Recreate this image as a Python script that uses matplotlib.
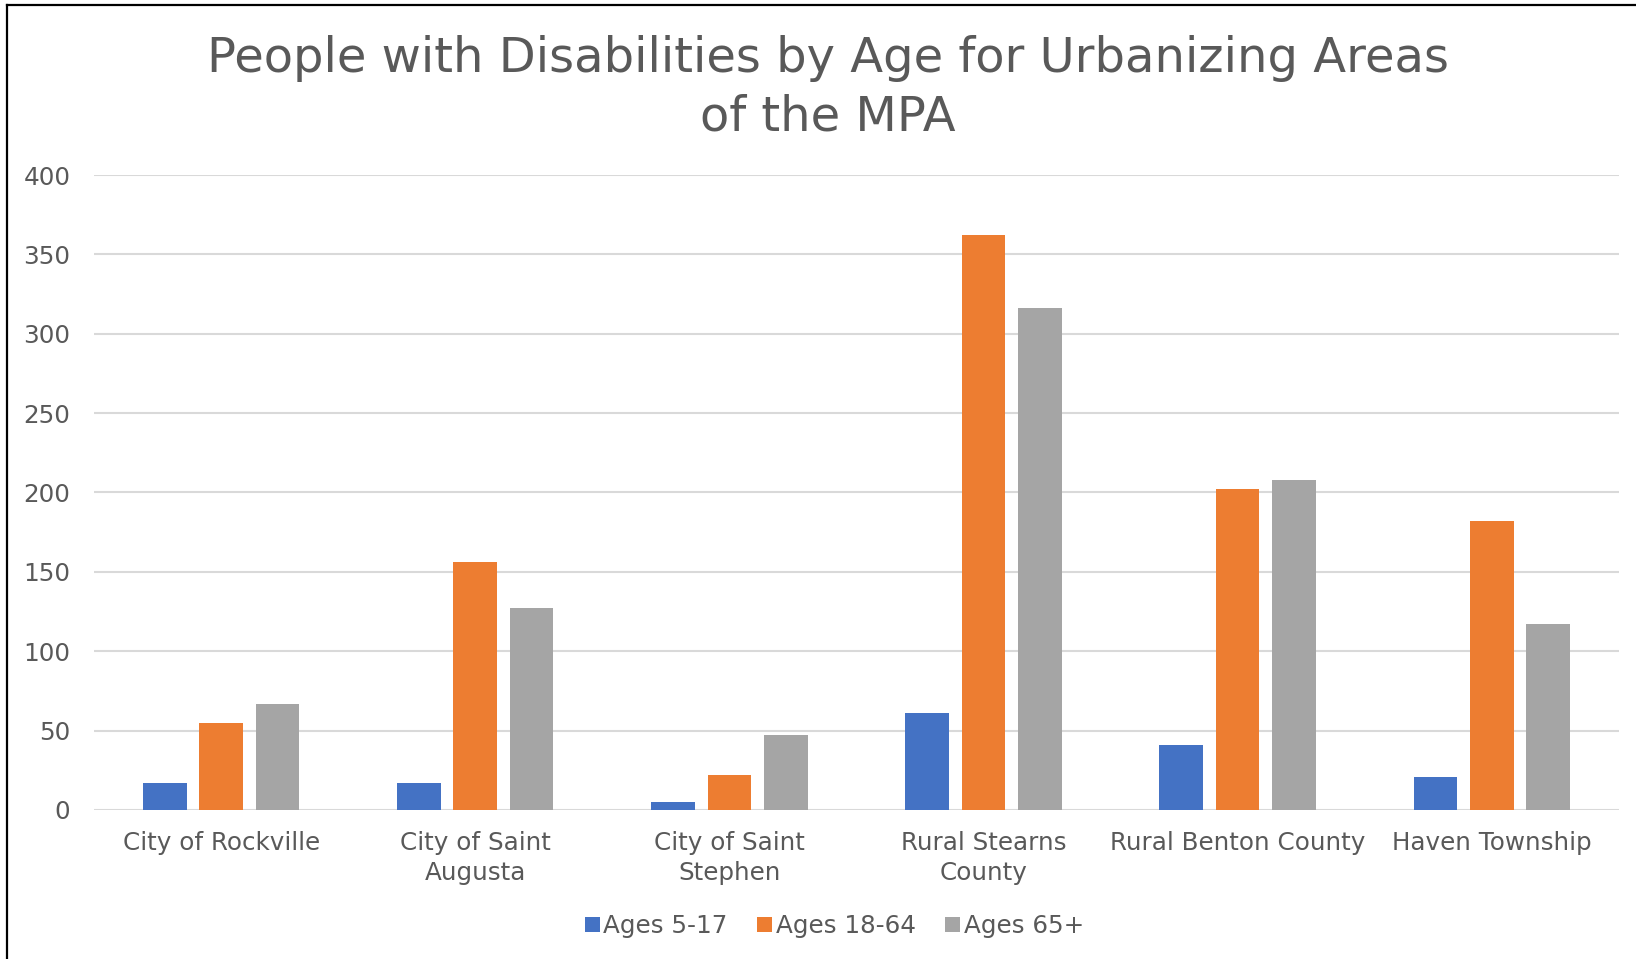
import numpy as np
import matplotlib.pyplot as plt
from matplotlib.lines import Line2D
from matplotlib.patches import Patch

# disabled population counts per area, by age group
areas = ['City of Rockville', 'City of Saint\nAugusta', 'City of Saint\nStephen',
         'Rural Stearns\nCounty', 'Rural Benton County', 'Haven Township']
ages_5_17 = [17, 17, 5, 61, 41, 21]
ages_18_64 = [55, 156, 22, 362, 202, 182]
ages_65_plus = [67, 127, 47, 316, 208, 117]
series_names = ['Ages 5-17', 'Ages 18-64', 'Ages 65+']
colors = ['#4472C4', '#ED7D31', '#A5A5A5']

text_col = '#595959'
plt.rcParams['font.family'] = ['DejaVu Sans']

fig = plt.figure(figsize=(16.36, 9.59), dpi=100)
ax = fig.add_axes([0.0575, 0.1554, 0.932, 0.6621])

x = np.arange(len(areas))
width = 0.172
step = 0.2216
for i, (vals, col) in enumerate(zip([ages_5_17, ages_18_64, ages_65_plus], colors)):
    ax.bar(x + (i - 1) * step, vals, width=width, color=col, zorder=3)

ax.set_xlim(-0.5, len(areas) - 0.5)
ax.set_ylim(0, 400)
ax.set_yticks(range(0, 401, 50))
ax.grid(axis='y', color='#D9D9D9', linewidth=1.5, zorder=0)
for s in ax.spines.values():
    s.set_visible(False)
ax.tick_params(axis='both', length=0, labelsize=17.7, colors=text_col)
ax.tick_params(axis='y', pad=17)
ax.tick_params(axis='x', pad=15.5)
ax.set_xticks(x)
ax.set_xticklabels(areas, linespacing=1.3)

fig.text(0.506, 0.963, 'People with Disabilities by Age for Urbanizing Areas\nof the MPA',
         ha='center', va='top', fontsize=34.6, color=text_col, linespacing=1.3)

handles = [Patch(facecolor=c, edgecolor='none') for c in colors]
fig.legend(handles, series_names, loc='center', bbox_to_anchor=(0.51, 1 - 926 / 959),
           ncol=3, frameon=False, fontsize=17.7, labelcolor=text_col,
           handlelength=0.6, handleheight=0.6, handletextpad=0.15, columnspacing=1.2)

# outer frame lines of the chart area
fig.add_artist(Line2D([6.5 / 1636, 6.5 / 1636], [0, 1 - 5 / 959], color='black', linewidth=1.6))
fig.add_artist(Line2D([6.5 / 1636, 1], [1 - 5 / 959, 1 - 5 / 959], color='black', linewidth=1.6))

fig.savefig('out.png', dpi=100, facecolor='white')
